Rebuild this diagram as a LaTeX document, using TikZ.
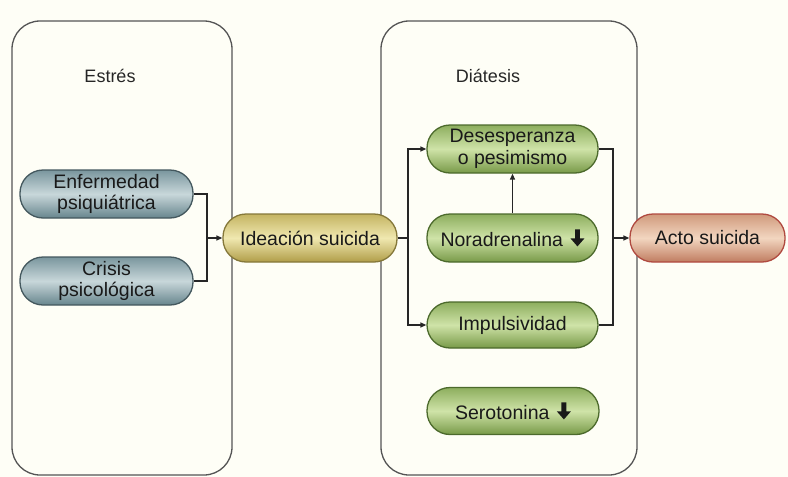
\documentclass[tikz,border=0pt]{standalone}
\usepackage{fontspec}
\setmainfont{Liberation Sans}
\usetikzlibrary{arrows.meta}
\definecolor{bgcol}{HTML}{FEFEF6}
\definecolor{boxline}{HTML}{555555}
\definecolor{blueT}{HTML}{7A969E}
\definecolor{blueM}{HTML}{C8D7DA}
\definecolor{blueB}{HTML}{67858D}
\definecolor{blueD}{HTML}{44585E}
\definecolor{yelT}{HTML}{C4B462}
\definecolor{yelM}{HTML}{F0E8B0}
\definecolor{yelB}{HTML}{B09D48}
\definecolor{yelD}{HTML}{85783A}
\definecolor{grnT}{HTML}{8DAE5E}
\definecolor{grnM}{HTML}{CFE3A8}
\definecolor{grnB}{HTML}{789A48}
\definecolor{grnD}{HTML}{4C6A2C}
\definecolor{redT}{HTML}{D09A7C}
\definecolor{redM}{HTML}{F2D6C0}
\definecolor{redB}{HTML}{C07C60}
\definecolor{redD}{HTML}{B04A40}
\tikzset{
  container/.style={draw=boxline, line width=1.3pt, fill=bgcol, rounded corners=28pt, inner sep=0pt},
  pill/.style={rectangle, rounded corners=23pt, minimum width=172pt, minimum height=48pt,
    inner sep=0pt, align=center, font=\fontsize{19.5}{21.5}\selectfont, text=black!90, line width=1.3pt},
  bluepill/.style={pill, draw=blueD, top color=blueT, bottom color=blueB, middle color=blueM},
  yelpill/.style={pill, draw=yelD, top color=yelT, bottom color=yelB, middle color=yelM},
  grnpill/.style={pill, draw=grnD, top color=grnT, bottom color=grnB, middle color=grnM},
  redpill/.style={pill, draw=redD, top color=redT, bottom color=redB, middle color=redM},
  titletext/.style={font=\fontsize{18}{20}\selectfont, text=black!85},
  conn/.style={draw=black!85, line width=1.4pt},
  arr/.style={conn, -{Triangle[length=6pt,width=5pt]}},
}
\newcommand{\dnarrow}{\hspace{2pt}\tikz[baseline=0pt, sharp corners, line width=0pt]\fill[black!90] (-2.4pt,17pt) -- (2.4pt,17pt) -- (2.4pt,8pt) -- (7pt,8pt) -- (0pt,0pt) -- (-7pt,8pt) -- (-2.4pt,8pt) -- cycle;}
\begin{document}
\begin{tikzpicture}[x=1pt,y=-1pt]
\fill[bgcol] (0,0) rectangle (788,477);
\useasboundingbox (0,0) rectangle (788,477);
% containers
\node[container, minimum width=220pt, minimum height=454pt] (lbox) at (122,248) {};
\node[container, minimum width=256pt, minimum height=454pt] (rbox) at (509,248) {};
\node[titletext] (estres) at (110,76) {Estrés};
\node[titletext] (diat) at (488,76) {Diátesis};
% nodes
\node[bluepill, minimum width=173pt] (enf) at (106.5,194) {Enfermedad\\psiquiátrica};
\node[bluepill, minimum width=173pt] (cri) at (106.5,281) {Crisis\\psicológica};
\node[yelpill, minimum width=174pt] (ide) at (310,238) {Ideación suicida};
\node[grnpill, minimum width=171pt] (des) at (512.5,149) {Desesperanza\\o pesimismo};
\node[grnpill, minimum width=171pt] (nor) at (512.5,238) {Noradrenalina \dnarrow};
\node[grnpill, minimum width=171pt, minimum height=46pt] (imp) at (512.5,325) {Impulsividad};
\node[grnpill, minimum width=172pt, minimum height=47pt] (ser) at (513,411) {Serotonina \dnarrow};
\node[redpill, minimum width=155pt] (act) at (707.5,238) {Acto suicida};
% junctions
\coordinate (j1) at (207,238);
\coordinate (j2) at (408,238);
\coordinate (j3) at (613,238);
% connectors
\draw[conn] (enf.east) -| (j1) |- (cri.east);
\draw[arr] (j1) -- (ide.west);
\draw[conn] (ide.east) -- (j2);
\draw[arr] (j2) |- (des.west);
\draw[arr] (j2) |- (imp.west);
\draw[arr] (nor.north) -- (des.south);
\draw[conn] (des.east) -| (j3) |- (imp.east);
\draw[arr] (j3) -- (act.west);
\end{tikzpicture}
\end{document}
